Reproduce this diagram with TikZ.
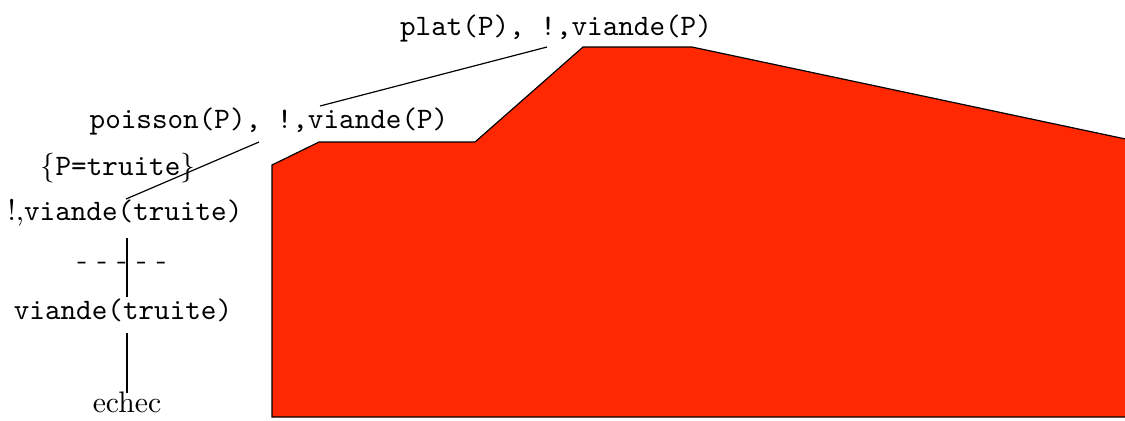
\documentclass[tikz,border=0pt]{standalone}
\definecolor{fillred}{RGB}{255,40,0}
\begin{document}
\begin{tikzpicture}[x=0.3367pt,y=-0.3367pt,
  lbl/.style={anchor=base,inner sep=0pt},
  link/.style={draw=black,line width=0.4pt}]
\useasboundingbox (0,0) rectangle (1125,420);
\draw[fill=fillred,line width=0.4pt] (272,417) -- (272,165) -- (319,142) -- (475,142)
  -- (583,47) -- (692,47) -- (1135,141) -- (1135,417) -- cycle;
\node[lbl] (plat) at (556,35) {\texttt{plat(P), !,viande(P)}};
\node[lbl] (poisson) at (269,128) {\texttt{poisson(P), !,viande(P)}};
\node[lbl] (subst) at (118,175) {$\{$\texttt{P=truite}$\}$};
\node[lbl] (cut) at (125,220) {!,\texttt{viande(truite)}};
\node[lbl] (dashes) at (122,269) {- - - - -};
\node[lbl] (viande) at (123,319) {\texttt{viande(truite)}};
\node[lbl] (echec) at (127,412) {echec};
\coordinate (platfoot) at (547,47);
\coordinate (poissonhead) at (320,106);
\coordinate (poissonfoot) at (259,142);
\coordinate (cuthead) at (126,199);
\coordinate (cutfoot) at (127,238);
\coordinate (viandehead) at (127,297);
\coordinate (viandefoot) at (127,333);
\coordinate (echechead) at (127,393);
\draw[link] (poissonhead) -- (platfoot);
\draw[link] (cuthead) -- (poissonfoot);
\draw[link] (cutfoot) -- (viandehead);
\draw[link] (viandefoot) -- (echechead);
\end{tikzpicture}
\end{document}
